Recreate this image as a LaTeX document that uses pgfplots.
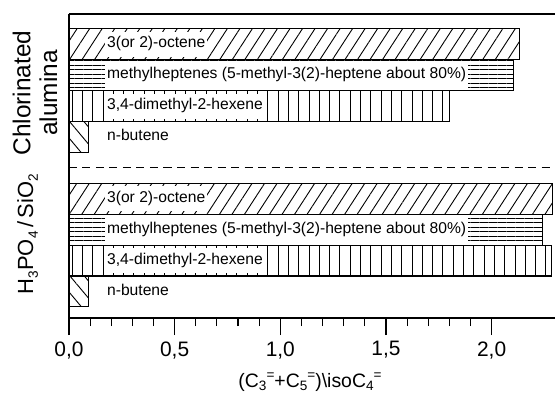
\documentclass[border=0pt]{standalone}
\usepackage{fontspec}
\setmainfont{Liberation Sans}
\usepackage{graphicx}
\usepackage{pgfplots}
\usepackage{pgfplotstable}
\pgfplotsset{compat=1.18}
\usetikzlibrary{patterns.meta}

\newcommand{\lsub}[1]{\raisebox{-0.22em}{\scalebox{0.62}{#1}}}
\newcommand{\xsub}[1]{\raisebox{-0.2em}{\scalebox{0.7}{#1}}}
\newcommand{\xsup}[1]{\raisebox{0.4em}{\scalebox{0.7}{#1}}}

\tikzset{lbl/.style={anchor=west, fill=white, inner xsep=2bp, inner ysep=3.5bp,
    font=\fontsize{15.7}{18}\selectfont}}

% y position: 1-4 = H3PO4/SiO2 group, 6-9 = chlorinated alumina group
\pgfplotstableread{
y x
4 2.29
9 2.13
}\octene
\pgfplotstableread{
y x
3 2.24
8 2.105
}\methylheptenes
\pgfplotstableread{
y x
2 2.285
7 1.80
}\dimethylhexene
\pgfplotstableread{
y x
1 0.093
6 0.093
}\nbutene

\begin{document}
\begin{tikzpicture}
\begin{axis}[
  at={(0,0)}, anchor=south west,
  scale only axis, width=486bp, height=304bp,
  xmin=0, xmax=2.3, ymin=0.14, ymax=9.98,
  axis x line=box, axis y line=left,
  axis line style={line width=1.1bp, -},
  xtick={0,0.5,1,1.5,2}, minor tick num=4,
  xtick pos=left, ytick=\empty,
  tick align=outside,
  major tick length=17bp, minor tick length=8bp,
  every tick/.style={black, line width=1.1bp},
  xticklabel style={font=\fontsize{21}{24}\selectfont, yshift=-3bp},
  /pgf/number format/.cd, use comma, fixed, fixed zerofill, precision=1, assume math mode=true,
  /pgfplots/.cd,
]
\addplot[xbar, bar width=1, bar shift=0pt, draw=black, line width=1.1bp,
  pattern={Lines[angle=57, distance=10.5bp, line width=0.9bp]}] table[x=x, y=y] {\octene};
\addplot[xbar, bar width=1, bar shift=0pt, draw=black, line width=1.1bp,
  pattern={Lines[angle=0, distance=4.5bp, line width=0.8bp]}] table[x=x, y=y] {\methylheptenes};
\addplot[xbar, bar width=1, bar shift=0pt, draw=black, line width=1.1bp,
  pattern={Lines[angle=90, distance=10.3bp, line width=0.9bp]}] table[x=x, y=y] {\dimethylhexene};
\addplot[xbar, bar width=1, bar shift=0pt, draw=black, line width=1.1bp,
  pattern={Lines[angle=-50, distance=11bp, line width=0.9bp]}] table[x=x, y=y] {\nbutene};

\draw[dash pattern=on 8bp off 5.5bp, line width=1bp] (axis cs:0,5) -- (axis cs:2.3,5);

\node[lbl] at (axis cs:0.170,9) {\strut 3(or 2)-octene};
\node[lbl] at (axis cs:0.170,8) {\strut methylheptenes (5-methyl-3(2)-heptene about 80\%)};
\node[lbl] at (axis cs:0.170,7) {\strut 3,4-dimethyl-2-hexene};
\node[lbl, fill=none] at (axis cs:0.170,6) {\strut n-butene};
\node[lbl] at (axis cs:0.170,4) {\strut 3(or 2)-octene};
\node[lbl] at (axis cs:0.170,3) {\strut methylheptenes (5-methyl-3(2)-heptene about 80\%)};
\node[lbl] at (axis cs:0.170,2) {\strut 3,4-dimethyl-2-hexene};
\node[lbl, fill=none] at (axis cs:0.170,1) {\strut n-butene};
\end{axis}

\node[rotate=90, align=center, font=\fontsize{24.5}{27}\selectfont] at (-34bp,225bp) {Chlorinated\\alumina};
\node[rotate=90, anchor=base, font=\fontsize{22}{27}\selectfont] at (-36bp,84bp) {H\lsub{3}PO\lsub{4}\,/\,SiO\lsub{2}};
\node[anchor=base, font=\fontsize{19.5}{22}\selectfont] at (241bp,-69bp) {(C\xsub{3}\xsup{=}+C\xsub{5}\xsup{=})\textbackslash isoC\xsub{4}\xsup{=}};

\pgfresetboundingbox
\path[use as bounding box] (-69bp,-80bp) rectangle (486bp,318bp);
\end{tikzpicture}
\end{document}
